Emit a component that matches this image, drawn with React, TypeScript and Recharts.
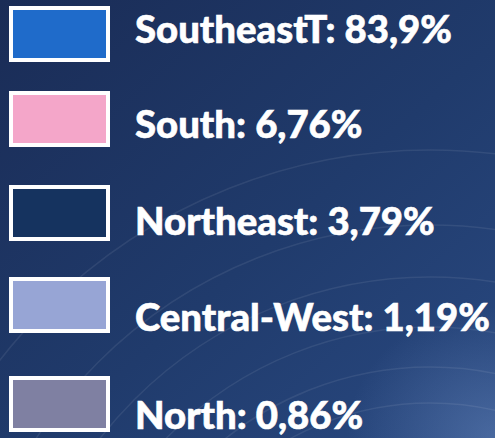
import React from "react";
import { PieChart, Pie, Cell, Legend } from "recharts";

const regions = ["SoutheastT", "South", "Northeast", "Central-West", "North"];
const shares = [83.9, 6.76, 3.79, 1.19, 0.86];
const shareLabels = ["83,9%", "6,76%", "3,79%", "1,19%", "0,86%"];
const colors = ["#1f6bca", "#f4a6c9", "#15335f", "#97a5d5", "#7f80a2"];

const data = regions.map((name, i) => ({ name, value: shares[i], label: shareLabels[i], color: colors[i] }));

const W = 495;
const H = 438;
const arcRadii = [545, 470, 418, 368, 328, 292];
// legend row layout (box top, text baseline)
const rowTops = [6, 91, 185, 277, 376];
const rowBaselines = [43, 138, 235, 331, 429];

const renderLegend = (props: any) => {
  const payload = (props.payload || []) as any[];
  return (
    <svg width={W} height={H} style={{ display: "block" }}>
      <defs>
        <linearGradient id="bg" x1="0" y1="0" x2="1" y2="1">
          <stop offset="0%" stopColor="#1a2c56" />
          <stop offset="55%" stopColor="#203b6c" />
          <stop offset="100%" stopColor="#294981" />
        </linearGradient>
        <radialGradient id="glow" cx="1" cy="1" r="0.3">
          <stop offset="0%" stopColor="#6f8fc4" stopOpacity="0.45" />
          <stop offset="100%" stopColor="#6f8fc4" stopOpacity="0" />
        </radialGradient>
      </defs>
      <rect x={0} y={0} width={W} height={H} fill="url(#bg)" />
      <rect x={0} y={0} width={W} height={H} fill="url(#glow)" />
      {arcRadii.map((r, i) => (
        <circle key={i} cx={430} cy={695} r={r} fill="none" stroke="#ffffff" strokeOpacity={0.08} strokeWidth={1.5} />
      ))}
      {data.map((d, i) => {
        const entry = payload.find((p: any) => p.value === d.name);
        const y = rowTops[i];
        return (
          <g key={d.name}>
            <rect x={11} y={y + 2} width={97} height={52} fill={entry ? entry.color : d.color} stroke="#ffffff" strokeWidth={4} />
            <text
              x={135}
              y={rowBaselines[i]}
              fill="#ffffff"
              fontFamily="Lato, 'Open Sans', sans-serif"
              fontWeight={900}
              fontSize={38.3}
              stroke="#ffffff"
              strokeWidth={0.6}
            >
              {`${d.name}: ${d.label}`}
            </text>
          </g>
        );
      })}
    </svg>
  );
};

export default function App() {
  return (
    <div style={{ position: "fixed", left: 0, top: 0, width: W, height: H }}>
      <PieChart width={W} height={H} margin={{ top: 0, right: 0, bottom: 0, left: 0 }}>
        <Pie
          data={data}
          dataKey="value"
          nameKey="name"
          cx={-100}
          cy={-100}
          outerRadius={0}
          stroke="none"
          isAnimationActive={false}
        >
          {data.map((d, i) => (
            <Cell key={i} fill={d.color} />
          ))}
        </Pie>
        <Legend
          layout="vertical"
          verticalAlign="top"
          align="left"
          content={renderLegend}
          wrapperStyle={{ left: 0, top: 0, width: W, height: H }}
        />
      </PieChart>
    </div>
  );
}
